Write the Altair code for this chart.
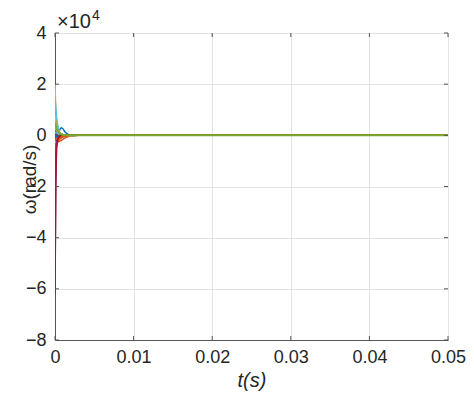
import altair as alt
import pandas as pd

# time points (s)
t = [0, 0.0001, 0.0002, 0.0004, 0.0006, 0.0008, 0.001, 0.0013, 0.0017, 0.0022, 0.003, 0.004, 0.006, 0.01, 0.05]

# angular speed series (x 1e4 rad/s)
s1 = [0.5, 0.2, 0.0, 0.1, 0.22, 0.3, 0.26, 0.12, 0.03, -0.02, 0.0, 0.0, 0.0, 0.0, 0.0]
s2 = [-0.8, -0.5, -0.3, -0.25, -0.22, -0.2, -0.16, -0.1, -0.05, -0.02, 0.0, 0.0, 0.0, 0.0, 0.0]
s3 = [2.0, 1.0, 0.45, 0.15, 0.05, 0.02, 0.0, -0.02, -0.03, -0.01, 0.0, 0.0, 0.0, 0.0, 0.0]
s4 = [-5.9, -1.5, -0.3, -0.1, 0.0, 0.03, 0.02, 0.0, 0.0, 0.0, 0.0, 0.0, 0.0, 0.0, 0.0]
s5 = [0.9, 0.7, 0.5, 0.25, 0.1, 0.03, 0.0, -0.02, 0.0, 0.0, 0.0, 0.0, 0.0, 0.0, 0.0]
s6 = [1.5, 1.1, 0.7, 0.3, 0.12, 0.05, 0.03, 0.01, 0.0, 0.0, 0.0, 0.0, 0.0, 0.0, 0.0]
s7 = [-6.2, -2.0, -0.5, -0.1, -0.03, 0.0, 0.0, 0.0, 0.0, 0.0, 0.0, 0.0, 0.0, 0.0, 0.0]
s8 = [-1.0, -0.4, -0.15, -0.05, -0.02, 0.0, 0.0, 0.0, 0.0, 0.0, 0.0, 0.0, 0.0, 0.0, 0.0]
s9 = [-0.5, -0.35, -0.25, -0.18, -0.12, -0.08, -0.05, -0.03, -0.01, 0.0, 0.0, 0.0, 0.0, 0.0, 0.0]
s10 = [-0.3, -0.25, -0.2, -0.15, -0.1, -0.06, -0.03, -0.01, 0.0, 0.0, 0.0, 0.0, 0.0, 0.0, 0.0]
s11 = [0.3, 0.15, 0.05, -0.05, -0.08, -0.06, -0.03, -0.01, 0.0, 0.0, 0.0, 0.0, 0.0, 0.0, 0.0]
s12 = [0.6, 0.3, 0.15, 0.1, 0.08, 0.05, 0.03, 0.02, 0.01, 0.0, 0.0, 0.0, 0.0, 0.0, 0.0]
s13 = [0.2, 0.25, 0.2, 0.1, 0.04, 0.0, -0.02, -0.01, 0.0, 0.0, 0.0, 0.0, 0.0, 0.0, 0.0]
s14 = [-0.15, -0.1, -0.05, -0.02, 0.0, 0.01, 0.0, 0.0, 0.0, 0.0, 0.0, 0.0, 0.0, 0.0, 0.0]
s15 = [0.4, 0.3, 0.2, 0.12, 0.08, 0.05, 0.02, 0.0, -0.01, 0.0, 0.0, 0.0, 0.0, 0.0, 0.0]
s16 = [-0.6, -0.4, -0.3, -0.2, -0.15, -0.1, -0.07, -0.04, -0.02, 0.0, 0.0, 0.0, 0.0, 0.0, 0.0]
s17 = [0.1, 0.12, 0.1, 0.06, 0.03, 0.01, 0.0, 0.0, 0.0, 0.0, 0.0, 0.0, 0.0, 0.0, 0.0]
s18 = [-2.5, -0.8, -0.2, -0.05, 0.0, 0.02, 0.01, 0.0, 0.0, 0.0, 0.0, 0.0, 0.0, 0.0, 0.0]
s19 = [0.8, 0.5, 0.3, 0.18, 0.1, 0.06, 0.03, 0.01, 0.0, 0.0, 0.0, 0.0, 0.0, 0.0, 0.0]
s20 = [-0.2, -0.15, -0.12, -0.1, -0.08, -0.05, -0.03, -0.01, 0.0, 0.0, 0.0, 0.0, 0.0, 0.0, 0.0]
s21 = [0.5, 0.35, 0.25, 0.15, 0.08, 0.04, 0.01, 0.0, 0.0, 0.0, 0.0, 0.0, 0.0, 0.0, 0.0]

series = [s1, s2, s3, s4, s5, s6, s8, s9, s10, s11, s12, s13, s14, s15, s16, s17, s18, s19, s20, s7]
colors = ["#0072BD", "#D95319", "#EDB120", "#7E2F8E", "#77AC30", "#4DBEEE", "#0072BD",
          "#D95319", "#EDB120", "#7E2F8E", "#A2142F", "#4DBEEE", "#0072BD", "#EDB120",
          "#D95319", "#4DBEEE", "#7E2F8E", "#EDB120", "#D95319", "#A2142F"]
top_series = s21
top_color = "#77AC30"

x_ticks = [0, 0.01, 0.02, 0.03, 0.04, 0.05]
y_ticks = [-8, -6, -4, -2, 0, 2, 4]

rows = []
for i, s in enumerate(series):
    for tt, v in zip(t, s):
        rows.append({"t": tt, "w": v, "k": f"s{i:02d}"})
df = pd.DataFrame(rows)
df_top = pd.DataFrame({"t": t, "w": top_series})

W, H = 393, 307
FONT = "Liberation Sans"
TXT = "#262626"
AX = "#555555"

xs = alt.Scale(domain=[0, 0.05], nice=False)
ys = alt.Scale(domain=[-8, 4], nice=False)

lines = alt.Chart(df).mark_line(strokeWidth=1.5, clip=True).encode(
    x=alt.X("t:Q", scale=xs,
            axis=alt.Axis(values=x_ticks, format="~g", title="t(s)", grid=True,
                          gridColor="#e3e3e3", domainColor=AX, tickColor=AX,
                          tickSize=0, labelPadding=8, labelFontSize=18, labelColor=TXT,
                          labelFlush=False,
                          labelFont=FONT, titleFont=FONT, titleFontSize=20, titleFontStyle="italic",
                          titleFontWeight="normal", titleColor=TXT, titlePadding=4)),
    y=alt.Y("w:Q", scale=ys,
            axis=alt.Axis(values=y_ticks, format="d", title="ω(rad/s)", grid=True,
                          gridColor="#e3e3e3", domainColor=AX, tickColor=AX,
                          tickSize=0, labelPadding=9, labelFontSize=18, labelColor=TXT,
                          labelFont=FONT, titleFont=FONT, titleFontSize=19,
                          titleFontWeight="normal", titleColor=TXT,
                          titleAngle=270, titleBaseline="middle", titleAlign="center",
                          titleX=-26, titleY=146)),
    color=alt.Color("k:N", scale=alt.Scale(domain=[f"s{i:02d}" for i in range(len(series))], range=colors),
                    legend=None),
    detail="k:N",
)

top_line = alt.Chart(df_top).mark_line(strokeWidth=2, clip=True, color=top_color).encode(
    x=alt.X("t:Q", scale=xs), y=alt.Y("w:Q", scale=ys))

xt = pd.DataFrame({"x": x_ticks})
yt = pd.DataFrame({"y": y_ticks})
xtick_bot = alt.Chart(xt).mark_rule(color=AX, strokeWidth=1).encode(
    x=alt.X("x:Q", scale=xs), y=alt.value(H), y2=alt.value(H - 4))
xtick_top = alt.Chart(xt).mark_rule(color=AX, strokeWidth=1).encode(
    x=alt.X("x:Q", scale=xs), y=alt.value(0), y2=alt.value(4))
ytick_l = alt.Chart(yt).mark_rule(color=AX, strokeWidth=1).encode(
    y=alt.Y("y:Q", scale=ys), x=alt.value(0), x2=alt.value(4))
ytick_r = alt.Chart(yt).mark_rule(color=AX, strokeWidth=1).encode(
    y=alt.Y("y:Q", scale=ys), x=alt.value(W), x2=alt.value(W - 4))

mult = alt.Chart(pd.DataFrame({"s": ["×10"]})).mark_text(
    font=FONT, fontSize=20, color=TXT, align="left", baseline="alphabetic").encode(
    text="s:N", x=alt.value(2), y=alt.value(-5))
expo = alt.Chart(pd.DataFrame({"s": ["4"]})).mark_text(
    font=FONT, fontSize=14, color=TXT, align="left", baseline="alphabetic").encode(
    text="s:N", x=alt.value(37), y=alt.value(-13))

chart = alt.layer(lines, top_line, xtick_bot, xtick_top, ytick_l, ytick_r, mult, expo).properties(
    width=W, height=H,
    autosize=alt.AutoSizeParams(type="none"),
    padding={"left": 47, "top": 25, "right": 18, "bottom": 63},
).configure_view(stroke=AX, strokeWidth=1).configure(background="white")

chart.save("out.html", embed_options={"renderer": "svg", "actions": False})
